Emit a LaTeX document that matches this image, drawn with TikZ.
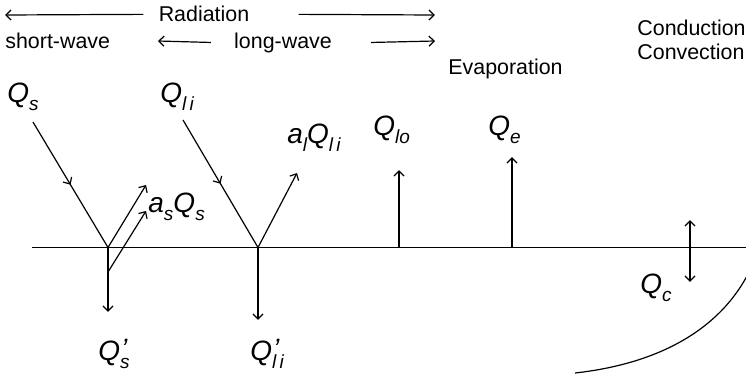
\documentclass[tikz,border=0pt]{standalone}
\usepackage{fontspec}
\setmainfont{Liberation Sans}
\usetikzlibrary{arrows.meta,decorations.markings}
\newcommand{\lsub}[1]{\raisebox{-0.55ex}{\fontsize{9.5}{10}\selectfont\itshape #1}}
\newcommand{\lprime}{\makebox[0pt][l]{\raisebox{0.1ex}{\fontsize{14}{14}\selectfont\itshape\kern0.5pt'}}}

\begin{document}
\begin{tikzpicture}[x=0.5pt,y=-0.5pt,
    txt/.style={font=\fontsize{10.7}{12.5}\selectfont, inner sep=0pt, anchor=base west},
    qlabel/.style={font=\fontsize{14}{16}\selectfont\itshape, inner sep=0pt, anchor=base west},
    flux/.style={-{Straight Barb[length=2.6pt,width=5pt]}, line width=0.6pt},
    twoway/.style={{Straight Barb[length=2.6pt,width=5pt]}-{Straight Barb[length=2.6pt,width=5pt]}, line width=0.6pt},
    influx/.style={line width=0.6pt, postaction=decorate,
        decoration={markings, mark=at position 0.5 with {\arrow{Straight Barb[length=2.6pt,width=5pt]}}}},
]
    \clip (0,0) rectangle (746,375);
    \useasboundingbox (0,0) rectangle (746,375);

    \node[txt, anchor=base] (rad) at (204,22) {Radiation};
    \node[txt] (short) at (5,48) {short-wave};
    \node[txt, anchor=base] (long) at (283,48) {long-wave};
    \node[txt] (evap) at (448,75) {Evaporation};
    \node[txt, anchor=base west, align=left] (cond) at (637,60) {Conduction\\Convection};

    \coordinate (radL) at (5,15);
    \coordinate (radR) at (435,15);
    \coordinate (longL) at (158,41);
    \coordinate (longR) at (435,41);
    \draw[flux] ([xshift=-7.5pt]rad.west) -- (radL);
    \draw[flux] ([xshift=24.5pt]rad.east) -- (radR);
    \draw[flux] ([xshift=-11.5pt]long.west) -- (longL);
    \draw[flux] ([xshift=19.5pt]long.east) -- (longR);

    \coordinate (sL) at (32,247.5);
    \coordinate (sR) at (746,247.5);
    \coordinate (pS) at (108,247.5);
    \coordinate (pL) at (258,247.5);
    \coordinate (pLo) at (399,247.5);
    \coordinate (pE) at (512,247.5);
    \coordinate (pC) at (690,247.5);
    \draw[line width=0.6pt] (sL) -- (sR);

    \node[qlabel] (qs) at (7,102) {Q\lsub{s}};
    \node[qlabel] (qli) at (160,102) {Q\lsub{l\,i}};
    \node[qlabel] (alqli) at (287,143) {a\lsub{l}Q\lsub{l\,i}};
    \node[qlabel] (asqs) at (148,212) {a\lsub{s}Q\lsub{s}};
    \node[qlabel] (qlo) at (373,135) {Q\lsub{lo}};
    \node[qlabel] (qe) at (488,135) {Q\lsub{e}};
    \node[qlabel] (qsp) at (98,360) {Q\lprime\lsub{s}};
    \node[qlabel] (qlip) at (250,360) {Q\lprime\lsub{l\,i}};
    \node[qlabel] (qc) at (640,293) {Q\lsub{c}};

    \coordinate (qsIn) at (33,122);
    \coordinate (qsOut) at (146,185);
    \coordinate (qsBase) at (108,272);
    \coordinate (qsOut2) at (146,211);
    \coordinate (qsDown) at (108,312);
    \draw[influx] (qsIn) -- (pS);
    \draw[flux] (pS) -- (qsOut);
    \draw[flux] (qsBase) -- (qsOut2);
    \draw[flux] (pS) -- (qsDown);

    \coordinate (qliIn) at (183,120);
    \coordinate (qliOut) at (297,173);
    \coordinate (qliDown) at (258,320);
    \draw[influx] (qliIn) -- (pL);
    \draw[flux] (pL) -- (qliOut);
    \draw[flux] (pL) -- (qliDown);

    \coordinate (qloUp) at (399,170);
    \coordinate (qeUp) at (512,157);
    \coordinate (qcUp) at (690,220);
    \coordinate (qcDown) at (690,282);
    \draw[flux] (pLo) -- (qloUp);
    \draw[flux] (pE) -- (qeUp);
    \draw[twoway] (qcDown) -- (qcUp);

    \coordinate (bowlA) at (575,373);
    \coordinate (bowlB) at (752,266);
    \draw[line width=0.6pt] (bowlA) .. controls (665,363) and (725,325) .. (bowlB);
\end{tikzpicture}
\end{document}
